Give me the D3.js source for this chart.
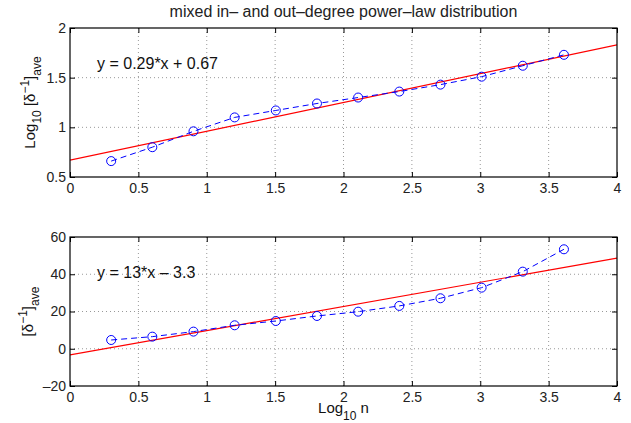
<!DOCTYPE html>
<html lang="en">
  <head>
    <meta charset="UTF-8" />
    <title>mixed in- and out-degree power-law distribution</title>
    <script src="https://d3js.org/d3.v7.min.js"></script>
    <style>
      body { margin: 0; background: #fff; }
      svg { font-family: "Liberation Sans", Arial, sans-serif; }
      .tick text { font-size: 14px; fill: #222; }
      .grid line { stroke: #999; stroke-dasharray: 1,3; }
    </style>
  </head>
  <body>
    <svg id="visualization" width="631" height="423"></svg>

    <script>
      // data
      const logN = [0.301, 0.602, 0.903, 1.204, 1.505, 1.806, 2.107, 2.408, 2.709, 3.01, 3.311, 3.612];
      const logDeltaAve = [0.66, 0.8, 0.96, 1.1, 1.17, 1.24, 1.3, 1.36, 1.43, 1.51, 1.62, 1.73];
      const deltaAve = [4.7, 6.5, 9.2, 12.6, 14.9, 17.6, 19.9, 23.0, 27.1, 32.8, 41.4, 53.4];
      const topFit = [0.29, 0.67];
      const bottomFit = [13, -3.3];
      const xTicks = [0, 0.5, 1, 1.5, 2, 2.5, 3, 3.5, 4];
      const topYTicks = [0.5, 1, 1.5, 2];
      const bottomYTicks = [-20, 0, 20, 40, 60];

      const svg = d3.select("#visualization");
      const left = 70, right = 617;
      const width = right - left;
      const panelHeight = 149;

      const x = d3.scaleLinear().domain([0, 4]).range([0, width]);
      const fmt = (d) => String(d).replace("-", "\u2013");

      function drawPanel(top, yDomain, yTicks, values, fit) {
        const y = d3.scaleLinear().domain(yDomain).range([panelHeight, 0]);
        const g = svg.append("g").attr("transform", `translate(${left},${top})`);

        // dotted grid
        const grid = g.append("g").attr("class", "grid");
        grid.selectAll(".gx").data(xTicks.slice(1, -1)).enter().append("line")
          .attr("x1", (d) => x(d)).attr("x2", (d) => x(d))
          .attr("y1", 0).attr("y2", panelHeight);
        grid.selectAll(".gy").data(yTicks.slice(1, -1)).enter().append("line")
          .attr("x1", 0).attr("x2", width)
          .attr("y1", (d) => y(d)).attr("y2", (d) => y(d));

        // axes with inward ticks on all four sides
        const xb = g.append("g").attr("transform", `translate(0,${panelHeight})`)
          .call(d3.axisBottom(x).tickValues(xTicks).tickFormat(fmt).tickSizeInner(-5).tickSizeOuter(0).tickPadding(6));
        const xt = g.append("g")
          .call(d3.axisTop(x).tickValues(xTicks).tickFormat("").tickSizeInner(-5).tickSizeOuter(0));
        const yl = g.append("g")
          .call(d3.axisLeft(y).tickValues(yTicks).tickFormat(fmt).tickSizeInner(-5).tickSizeOuter(0).tickPadding(4));
        const yr = g.append("g").attr("transform", `translate(${width},0)`)
          .call(d3.axisRight(y).tickValues(yTicks).tickFormat("").tickSizeInner(-5).tickSizeOuter(0));
        [xb, xt, yl, yr].forEach((a) => {
          a.select(".domain").remove();
          a.selectAll(".tick line").attr("stroke", "#000");
        });

        // fitted line (clipped to the axes)
        const clipId = "clip" + top;
        g.append("clipPath").attr("id", clipId).append("rect")
          .attr("width", width).attr("height", panelHeight);
        g.append("line")
          .attr("clip-path", `url(#${clipId})`)
          .attr("x1", x(0)).attr("y1", y(fit[0] * 0 + fit[1]))
          .attr("x2", x(4)).attr("y2", y(fit[0] * 4 + fit[1]))
          .attr("stroke", "#ff0000").attr("stroke-width", 1.2);

        // data: dashed line with open circles
        const pts = logN.map((d, i) => [d, values[i]]);
        g.append("path")
          .datum(pts)
          .attr("fill", "none")
          .attr("stroke", "#0000ff")
          .attr("stroke-width", 1)
          .attr("stroke-dasharray", "6,4")
          .attr("d", d3.line().x((d) => x(d[0])).y((d) => y(d[1])));
        g.selectAll(".pt").data(pts).enter().append("circle")
          .attr("cx", (d) => x(d[0])).attr("cy", (d) => y(d[1]))
          .attr("r", 4.5)
          .attr("fill", "none").attr("stroke", "#0000ff").attr("stroke-width", 1);

        // box
        g.append("rect").attr("width", width).attr("height", panelHeight)
          .attr("fill", "none").attr("stroke", "#000").attr("stroke-width", 1.2);

        return g;
      }

      const gTop = drawPanel(28, [0.5, 2], topYTicks, logDeltaAve, topFit);
      const gBot = drawPanel(237, [-20, 60], bottomYTicks, deltaAve, bottomFit);

      // title
      svg.append("text")
        .attr("x", left + width / 2).attr("y", 17)
        .attr("text-anchor", "middle")
        .style("font-size", "16px").attr("fill", "#222")
        .text("mixed in\u2013 and out\u2013degree power\u2013law distribution");

      // fit equations
      gTop.append("text").attr("x", 27).attr("y", 41)
        .style("font-size", "16px").attr("fill", "#111")
        .text("y = 0.29*x + 0.67");
      gBot.append("text").attr("x", 27).attr("y", 41)
        .style("font-size", "16px").attr("fill", "#111")
        .text("y = 13*x \u2013 3.3");

      // y labels
      const ty = svg.append("text")
        .attr("transform", `translate(35,${28 + panelHeight / 2}) rotate(-90)`)
        .attr("text-anchor", "middle")
        .style("font-size", "15px").attr("fill", "#111");
      ty.append("tspan").text("Log");
      ty.append("tspan").attr("dy", 6).style("font-size", "12px").text("10");
      ty.append("tspan").attr("dy", -6).text(" [\u03b4");
      ty.append("tspan").attr("dy", -6).style("font-size", "12px").text("\u22121");
      ty.append("tspan").attr("dy", 6).text("]");
      ty.append("tspan").attr("dy", 6).style("font-size", "12px").text("ave");

      const by = svg.append("text")
        .attr("transform", `translate(33,${237 + panelHeight / 2}) rotate(-90)`)
        .attr("text-anchor", "middle")
        .style("font-size", "15px").attr("fill", "#111");
      by.append("tspan").text("[\u03b4");
      by.append("tspan").attr("dy", -6).style("font-size", "12px").text("\u22121");
      by.append("tspan").attr("dy", 6).text("]");
      by.append("tspan").attr("dy", 6).style("font-size", "12px").text("ave");

      // x label
      const xl = svg.append("text")
        .attr("x", left + width / 2).attr("y", 413)
        .attr("text-anchor", "middle")
        .style("font-size", "15px").attr("fill", "#111");
      xl.append("tspan").text("Log");
      xl.append("tspan").attr("dy", 7).style("font-size", "12px").text("10");
      xl.append("tspan").attr("dy", -7).text(" n");
    </script>
  </body>
</html>
